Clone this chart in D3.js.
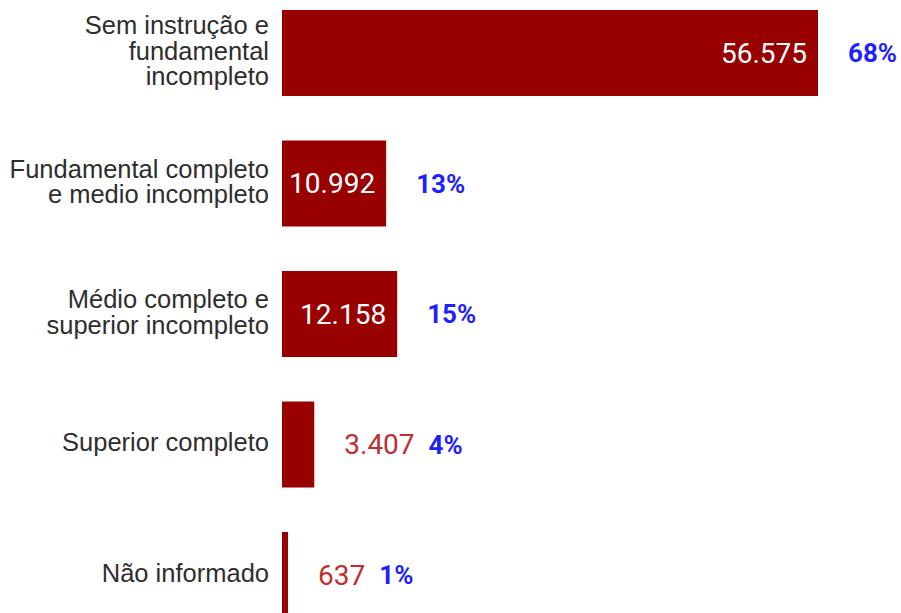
<!DOCTYPE html>
<head>
    <meta charset="utf-8">
    <script src="https://d3js.org/d3.v7.min.js"></script>
    <style>
        body { margin: 0; background: #fff; }
    </style>
</head>
<body>
<svg></svg>
</body>

<script>
    // Data
    var categories = [
        ["Sem instrução e", "fundamental", "incompleto"],
        ["Fundamental completo", "e medio incompleto"],
        ["Médio completo e", "superior incompleto"],
        ["Superior completo"],
        ["Não informado"]
    ];
    var values = [56575, 10992, 12158, 3407, 637];

    var width = 901;
    var height = 613;
    var total = d3.sum(values);

    var br = d3.formatLocale({ decimal: ",", thousands: ".", grouping: [3], currency: ["R$", ""] });
    var fmt = br.format(",d");

    var svg = d3.select('svg')
        .attr('width', width)
        .attr('height', height)
        .style('display', 'block');

    var x = d3.scaleLinear()
        .domain([0, d3.max(values)])
        .range([282, 818]);

    var y = d3.scaleBand()
        .domain(d3.range(values.length))
        .range([10, 618])
        .paddingInner(0.341)
        .paddingOuter(0);

    var rows = svg.selectAll('g.row')
        .data(values)
        .enter().append('g')
        .attr('class', 'row');

    // Bars
    rows.append('rect')
        .attr('x', x(0))
        .attr('y', function (d, i) { return y(i); })
        .attr('width', function (d) { return x(d) - x(0); })
        .attr('height', y.bandwidth())
        .style('fill', '#990000');

    // Category labels
    rows.each(function (d, i) {
        var lines = categories[i];
        var lh = 25.5;
        var cy = y(i) + y.bandwidth() / 2;
        var t = d3.select(this).append('text')
            .attr('text-anchor', 'end')
            .style('font-family', '"Liberation Sans", Arial, sans-serif')
            .style('font-size', '25.5px')
            .style('fill', '#2e2e2e');
        lines.forEach(function (l, j) {
            t.append('tspan')
                .attr('x', x(0) - 13)
                .attr('y', cy + (j - (lines.length - 1) / 2) * lh - 2)
                .attr('dy', '0.35em')
                .text(l);
        });
    });

    // Value + percent labels
    rows.each(function (d, i) {
        var g = d3.select(this);
        var cy = y(i) + y.bandwidth() / 2;
        var barW = x(d) - x(0);
        var val = g.append('text')
            .attr('y', cy)
            .attr('dy', '0.35em')
            .style('font-family', 'Roboto, sans-serif')
            .style('font-size', '28px')
            .text(fmt(d));
        var tw = val.node().getComputedTextLength();
        var pctX;
        if (tw + 18 < barW) {
            val.attr('x', x(d) - 11)
                .attr('text-anchor', 'end')
                .style('fill', '#fff');
            pctX = x(d) + 30;
        } else {
            val.attr('x', x(d) + 30)
                .attr('text-anchor', 'start')
                .style('fill', '#bf2f2f');
            pctX = x(d) + 30 + tw + 14;
        }
        g.append('text')
            .attr('x', pctX)
            .attr('y', cy)
            .attr('dy', '0.35em')
            .style('font-family', 'Roboto, sans-serif')
            .style('font-weight', 'bold')
            .style('font-size', '26px')
            .style('fill', '#1f1fff')
            .text(Math.round(d / total * 100) + '%');
    });
</script>
